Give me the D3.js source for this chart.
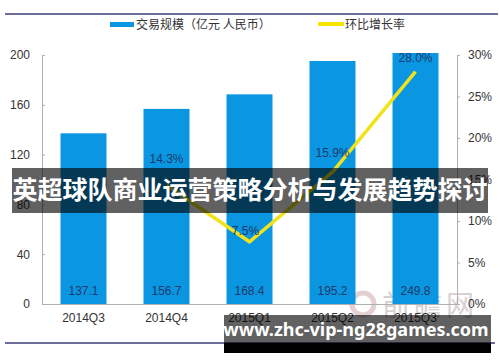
<!DOCTYPE html>
<html>
<head>
<meta charset="utf-8">
<script src="https://cdn.jsdelivr.net/npm/d3@7"></script>
<style>
  body { margin: 0; background: #fff; }
  svg { display: block; font-family: "Noto Sans CJK SC", "Noto Sans", sans-serif; }
  .axis text { fill: #333; font-size: 12px; font-family: "Liberation Sans", "DejaVu Sans", sans-serif; }
  .axis path, .axis line { stroke: #b0b0b0; }
</style>
</head>
<body>
<div id="chart"></div>
<script>
const quarters = ['2014Q3', '2014Q4', '2015Q1', '2015Q2', '2015Q3'];
const volume = [137.1, 156.7, 168.4, 195.2, 249.8];
const growth = [null, 14.3, 7.5, 15.9, 28.0];
const leftTicks = [0, 40, 80, 120, 160, 200];
const rightTicks = [0, 5, 10, 15, 20, 25, 30];
const legendNames = ['交易规模（亿元 人民币）', '环比增长率'];
const title = '英超球队商业运营策略分析与发展趋势探讨';
const siteUrl = 'www.zhc-vip-ng28games.com';

const W = 500;
const H = 362;
const margin = { top: 55, right: 43, bottom: 58, left: 42 };
const plotBottom = H - margin.bottom;
// hand-placed label lift above each point, like the original
const labelLift = [0, 22, 7, 15, 10];

const svg = d3.select('#chart').append('svg')
    .attr('width', W)
    .attr('height', H);

// frame lines top and bottom
svg.append('line').attr('x1', 5).attr('x2', 498).attr('y1', 14).attr('y2', 14)
    .attr('stroke', '#3d3d78').attr('stroke-width', 1.5);
svg.append('line').attr('x1', 5).attr('x2', 495).attr('y1', 343).attr('y2', 343)
    .attr('stroke', '#3d3d78').attr('stroke-width', 1.5);

const x = d3.scaleBand()
    .domain(quarters)
    .range([margin.left, W - margin.right])
    .paddingInner(0.446)
    .paddingOuter(0.223);
const y = d3.scaleLinear().domain([0, 200]).range([plotBottom, margin.top]);
const y2 = d3.scaleLinear().domain([0, 30]).range([plotBottom, margin.top]);

// watermark
svg.append('circle').attr('cx', 363).attr('cy', 304).attr('r', 11)
    .attr('fill', 'none').attr('stroke', '#d9bcbc').attr('stroke-width', 5).attr('opacity', 0.7);
svg.append('text').attr('x', 382).attr('y', 316)
    .attr('font-size', 28).attr('letter-spacing', 4)
    .attr('fill', '#cfc6c6').attr('opacity', 0.8)
    .text('前瞻网');

// bars
svg.selectAll('.bar')
    .data(quarters)
    .enter()
    .append('rect')
    .attr('class', 'bar')
    .attr('fill', '#0b96e2')
    .attr('x', d => x(d))
    .attr('width', x.bandwidth())
    .attr('y', (d, i) => y(Math.min(volume[i], 200)) - (volume[i] > 200 ? 2 : 0))
    .attr('height', (d, i) => plotBottom - y(Math.min(volume[i], 200)) + (volume[i] > 200 ? 2 : 0));

svg.selectAll('.bar-label')
    .data(quarters)
    .enter()
    .append('text')
    .attr('x', d => x(d) + x.bandwidth() / 2)
    .attr('y', plotBottom - 9)
    .attr('text-anchor', 'middle')
    .attr('font-size', 12)
    .attr('font-family', 'Liberation Sans, sans-serif')
    .attr('fill', '#1b3a6b')
    .text((d, i) => volume[i].toFixed(1));

// axes
svg.append('g')
    .attr('class', 'axis')
    .attr('transform', `translate(${margin.left},0)`)
    .call(d3.axisLeft(y).tickValues(leftTicks).tickSize(-3).tickPadding(12));

svg.append('g')
    .attr('class', 'axis')
    .attr('transform', `translate(${W - margin.right},0)`)
    .call(d3.axisRight(y2).tickValues(rightTicks).tickSize(3).tickPadding(8).tickFormat(d => d + '%'));

svg.append('line')
    .attr('x1', margin.left).attr('x2', W - margin.right)
    .attr('y1', plotBottom + 0.5).attr('y2', plotBottom + 0.5)
    .attr('stroke', '#b0b0b0');

svg.selectAll('.x-label')
    .data(quarters)
    .enter()
    .append('text')
    .attr('x', d => x(d) + x.bandwidth() / 2)
    .attr('y', plotBottom + 18)
    .attr('text-anchor', 'middle')
    .attr('font-size', 12)
    .attr('font-family', 'Liberation Sans, sans-serif')
    .attr('fill', '#333')
    .text(d => d);

// growth line
const pts = quarters.map((q, i) => ({ q, v: growth[i], lift: labelLift[i] })).filter(d => d.v !== null);
const line = d3.line()
    .x(d => x(d.q) + x.bandwidth() / 2)
    .y(d => y2(d.v));

svg.append('path')
    .datum(pts)
    .attr('fill', 'none')
    .attr('stroke', '#f2e21a')
    .attr('stroke-width', 3.5)
    .attr('stroke-linejoin', 'miter')
    .attr('d', line);

svg.selectAll('.pct-label')
    .data(pts)
    .enter()
    .append('text')
    .attr('x', d => x(d.q) + x.bandwidth() / 2 - (d.lift < 10 ? 4 : 0))
    .attr('y', d => y2(d.v) - d.lift)
    .attr('text-anchor', 'middle')
    .attr('font-size', 12)
    .attr('font-family', 'Liberation Sans, sans-serif')
    .attr('fill', '#1b3a6b')
    .text(d => d.v.toFixed(1) + '%');

// legend
const legend = svg.append('g');
legend.append('rect').attr('x', 110).attr('y', 22).attr('width', 24).attr('height', 5).attr('fill', '#0b96e2');
legend.append('text').attr('x', 136).attr('y', 29).attr('font-size', 12).attr('fill', '#333').text(legendNames[0]);
legend.append('rect').attr('x', 318).attr('y', 22).attr('width', 26).attr('height', 4).attr('fill', '#f5e400');
legend.append('text').attr('x', 345).attr('y', 29).attr('font-size', 12).attr('fill', '#333').text(legendNames[1]);

// title banner
svg.append('rect').attr('x', 12).attr('y', 168).attr('width', 476).attr('height', 45)
    .attr('fill', 'rgba(0,0,0,0.62)');
svg.append('text').attr('x', 250).attr('y', 199)
    .attr('text-anchor', 'middle')
    .attr('font-size', 25).attr('font-weight', 'bold')
    .attr('fill', '#fff')
    .text(title);

// url banner
svg.append('rect').attr('x', 224).attr('y', 315).attr('width', 267).attr('height', 28)
    .attr('fill', 'rgba(0,0,0,0.62)');
svg.append('rect').attr('x', 224).attr('y', 343).attr('width', 267).attr('height', 10)
    .attr('fill', '#000');
svg.append('text').attr('x', 356).attr('y', 336)
    .attr('text-anchor', 'middle')
    .attr('font-size', 18).attr('font-weight', 'bold')
    .attr('font-family', 'Noto Sans, sans-serif')
    .attr('fill', '#fff')
    .text(siteUrl);
</script>
</body>
</html>
